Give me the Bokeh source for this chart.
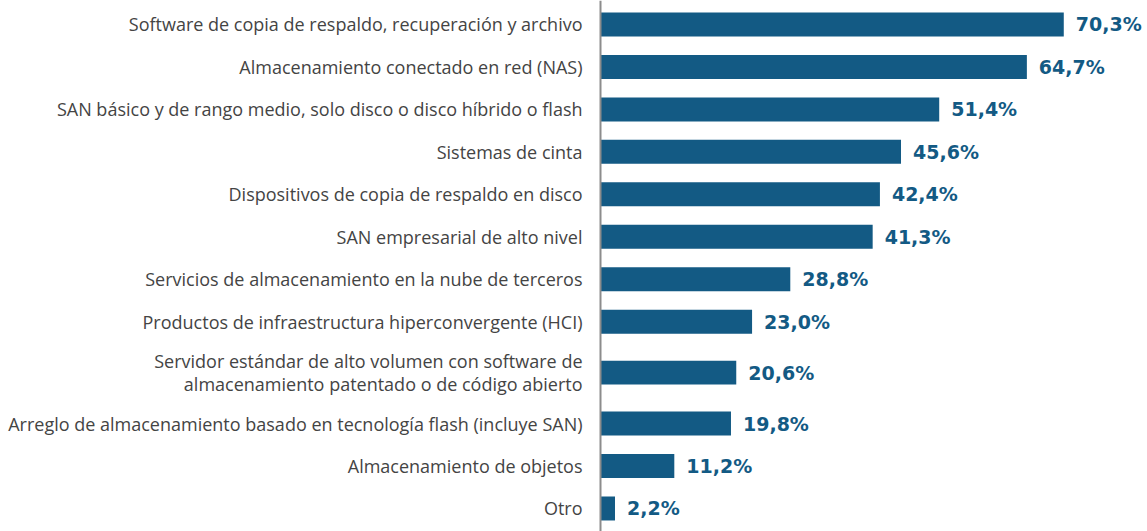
from bokeh.plotting import figure
from bokeh.models import ColumnDataSource, Range1d, Span
from bokeh.embed import file_html
from bokeh.resources import INLINE
from bokeh.core.properties import value
import numpy as np

categories = [
    "Software de copia de respaldo, recuperación y archivo",
    "Almacenamiento conectado en red (NAS)",
    "SAN básico y de rango medio, solo disco o disco híbrido o flash",
    "Sistemas de cinta",
    "Dispositivos de copia de respaldo en disco",
    "SAN empresarial de alto nivel",
    "Servicios de almacenamiento en la nube de terceros",
    "Productos de infraestructura hiperconvergente (HCI)",
    "Servidor estándar de alto volumen con software de\nalmacenamiento patentado o de código abierto",
    "Arreglo de almacenamiento basado en tecnología flash (incluye SAN)",
    "Almacenamiento de objetos",
    "Otro",
]
values = [70.3, 64.7, 51.4, 45.6, 42.4, 41.3, 28.8, 23.0, 20.6, 19.8, 11.2, 2.2]
value_labels = [f"{v:.1f}%".replace(".", ",") for v in values]

# row heights derived from number of text lines
lines = np.array([c.count("\n") + 1 for c in categories])
heights = np.where(lines > 1, 1.4, 1.0)
ypos = np.concatenate([[0.0], np.cumsum((heights[:-1] + heights[1:]) / 2)])

BAR = "#135a84"
W, H = 1147, 531
px_per_unit = 6.59
axis_px = 600
x_start = -axis_px / px_per_unit
x_end = x_start + W / px_per_unit

p = figure(width=W, height=H, output_backend="svg", toolbar_location=None,
           x_range=Range1d(x_start, x_end),
           y_range=Range1d(ypos[-1] + 0.542, -0.565),
           min_border=0, min_border_left=0, min_border_right=0,
           min_border_top=0, min_border_bottom=0)
p.outline_line_color = None
p.xaxis.visible = False
p.yaxis.visible = False
p.xgrid.visible = False
p.ygrid.visible = False
p.background_fill_color = "white"
p.border_fill_color = "white"

src = ColumnDataSource(dict(y=ypos, v=values, cat=categories, lab=value_labels,
                            zero=[0] * len(values)))

p.hbar(y="y", left="zero", right="v", height=0.565, source=src,
       fill_color=BAR, line_color=None)

p.add_layout(Span(location=0, dimension="height", line_color="#8c8c8c", line_width=2))

p.text(x="zero", y="y", text="cat", source=src, x_offset=-18,
       text_align="right", text_baseline="middle",
       text_font=value("Open Sans"), text_font_size="18px",
       text_color="#444444", text_line_height=0.95)

p.text(x="v", y="y", text="lab", source=src, x_offset=12,
       text_align="left", text_baseline="middle",
       text_font=value("DejaVu Sans"), text_font_style="bold",
       text_font_size="19px", text_color=BAR)

open("out.html", "w").write(file_html(p, INLINE))
